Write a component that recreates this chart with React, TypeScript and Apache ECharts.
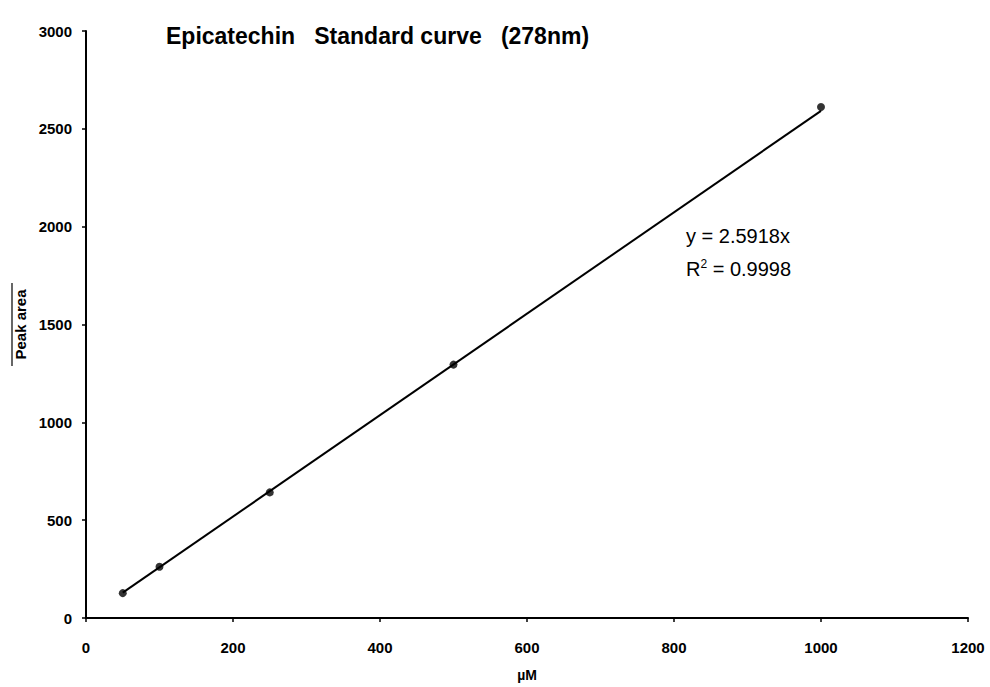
import React, { useEffect, useRef } from "react";
import * as echarts from "echarts";

const concentrations = [50, 100, 250, 500, 1000];
const peakAreas = [127, 262, 642, 1295, 2612];
const slope = 2.5918;
const rSquared = "0.9998";
const xTicks = { min: 0, max: 1200, interval: 200 };
const yTicks = { min: 0, max: 3000, interval: 500 };
const titleText = "Epicatechin   Standard curve   (278nm)";
const xName = "µM";
const yName = "Peak area";

export default function App() {
  const ref = useRef<HTMLDivElement>(null);
  useEffect(() => {
    if (!ref.current) return;
    const chart = echarts.init(ref.current, undefined, { renderer: "svg" });
    const font = "'Liberation Sans', Arial, sans-serif";
    const trendX = [concentrations[0], concentrations[concentrations.length - 1]];
    chart.setOption({
      animation: false,
      backgroundColor: "#ffffff",
      title: {
        text: titleText,
        left: 161,
        top: 19,
        textStyle: { fontFamily: font, fontSize: 23, fontWeight: "bold", color: "#000" },
      },
      grid: { left: 86, right: 22, top: 31, bottom: 67 },
      xAxis: {
        type: "value",
        min: xTicks.min,
        max: xTicks.max,
        interval: xTicks.interval,
        name: xName,
        nameLocation: "middle",
        nameGap: 50,
        nameTextStyle: { fontFamily: font, fontSize: 14, fontWeight: "bold", color: "#000" },
        axisLine: { lineStyle: { color: "#000", width: 2 } },
        axisTick: { show: true, length: 4, lineStyle: { color: "#000", width: 1.5 } },
        axisLabel: {
          fontFamily: font, fontSize: 15, fontWeight: "bold", color: "#000", margin: 22,
          formatter: (v: number) => String(v),
        },
        splitLine: { show: false },
      },
      yAxis: {
        type: "value",
        min: yTicks.min,
        max: yTicks.max,
        interval: yTicks.interval,
        name: yName,
        nameLocation: "middle",
        nameGap: 58,
        nameRotate: 90,
        nameTextStyle: { fontFamily: font, fontSize: 15, fontWeight: "bold", color: "#000" },
        axisLine: { show: true, lineStyle: { color: "#000", width: 2 } },
        axisTick: { show: true, length: 4, lineStyle: { color: "#000", width: 1.5 } },
        axisLabel: {
          fontFamily: font, fontSize: 15, fontWeight: "bold", color: "#000", margin: 14,
          formatter: (v: number) => String(v),
        },
        splitLine: { show: false },
      },
      graphic: [
        {
          type: "line",
          shape: { x1: 12, y1: 283, x2: 12, y2: 366 },
          style: { stroke: "#000", lineWidth: 1.2 },
        },
        {
          type: "text",
          left: 686,
          top: 226,
          style: {
            text: "y = " + slope.toFixed(4) + "x",
            fontFamily: font,
            fontSize: 20,
            fill: "#000",
          },
        },
        {
          type: "text",
          left: 686,
          top: 258,
          style: {
            text: "R{sup|2} = " + rSquared,
            fontFamily: font,
            fontSize: 20,
            fill: "#000",
            rich: {
              sup: { fontFamily: font, fontSize: 12, verticalAlign: "top", fill: "#000", padding: [0, 0, 10, 0] },
            },
          },
        },
      ],
      series: [
        {
          type: "line",
          data: trendX.map((x) => [x, x * slope]),
          symbol: "none",
          lineStyle: { color: "#000", width: 2 },
          silent: true,
        },
        {
          type: "scatter",
          data: concentrations.map((x, i) => [x, peakAreas[i]]),
          symbol: "circle",
          symbolSize: 8,
          itemStyle: { color: "#000" },
        },
      ],
    });
    return () => chart.dispose();
  }, []);
  return <div ref={ref} style={{ width: 990, height: 687, position: "absolute", left: 0, top: 0 }} />;
}
